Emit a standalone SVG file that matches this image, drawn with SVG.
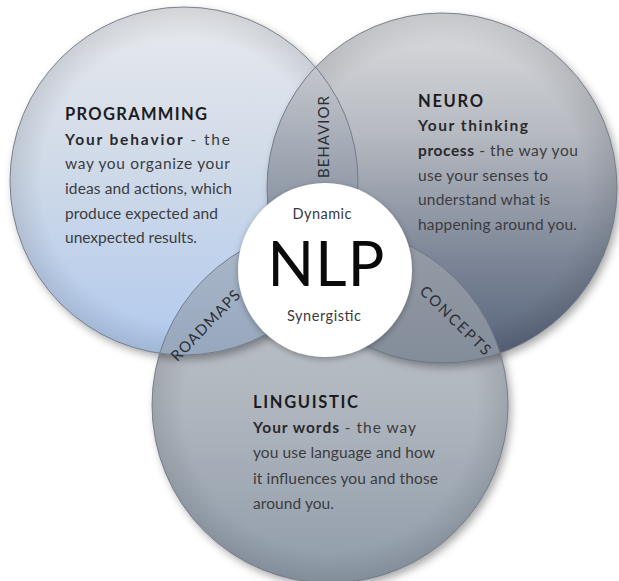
<svg xmlns="http://www.w3.org/2000/svg" width="619" height="581" viewBox="0 0 619 581">
<defs>
<style>
text{font-family:Lato,"Liberation Sans","DejaVu Sans",sans-serif;}
.h{font-weight:bold;font-size:16.5px;fill:#1c1c1e;}
.t{font-size:15.5px;fill:#3c3c40;}
.b{font-weight:bold;fill:#2a2a2e;}
.lab{font-size:15px;fill:#2c2f36;}
.ring{fill:none;stroke:#6e7683;stroke-width:0.9;}
</style>
<linearGradient id="gL" gradientUnits="userSpaceOnUse" x1="0" y1="7" x2="0" y2="355">
<stop offset="0" stop-color="#e8eaee"/>
<stop offset="0.45" stop-color="#d0dae8"/>
<stop offset="1" stop-color="#b1caee"/>
</linearGradient>
<linearGradient id="gR" gradientUnits="userSpaceOnUse" x1="0" y1="13" x2="0" y2="363">
<stop offset="0" stop-color="#dcdde0"/>
<stop offset="0.35" stop-color="#b5b9c0"/>
<stop offset="0.7" stop-color="#7d8697"/>
<stop offset="1" stop-color="#56627a"/>
</linearGradient>
<linearGradient id="gB" gradientUnits="userSpaceOnUse" x1="0" y1="227" x2="0" y2="583">
<stop offset="0" stop-color="#c4c9ce"/>
<stop offset="0.5" stop-color="#afb6be"/>
<stop offset="1" stop-color="#909caa"/>
</linearGradient>
<linearGradient id="gBeh" gradientUnits="userSpaceOnUse" x1="0" y1="68" x2="0" y2="200">
<stop offset="0" stop-color="#c3c6cc"/>
<stop offset="1" stop-color="#8f98a6"/>
</linearGradient>
<linearGradient id="gRoad" gradientUnits="userSpaceOnUse" x1="0" y1="240" x2="0" y2="365">
<stop offset="0" stop-color="#a9b7ca"/>
<stop offset="1" stop-color="#96a6bb"/>
</linearGradient>
<linearGradient id="gCon" gradientUnits="userSpaceOnUse" x1="0" y1="240" x2="0" y2="365">
<stop offset="0" stop-color="#959ca7"/>
<stop offset="1" stop-color="#838c99"/>
</linearGradient>
<radialGradient id="rim">
<stop offset="0.82" stop-color="#000" stop-opacity="0"/>
<stop offset="1" stop-color="#000" stop-opacity="0.1"/>
</radialGradient>
<clipPath id="cL"><circle cx="184" cy="181" r="174"/></clipPath>
<clipPath id="cR"><circle cx="442" cy="188" r="175"/></clipPath>
<clipPath id="cB"><circle cx="330" cy="405" r="178"/></clipPath>
<filter id="sh" x="-20%" y="-20%" width="140%" height="140%">
<feDropShadow dx="3" dy="4" stdDeviation="4" flood-color="#000" flood-opacity="0.35"/>
</filter>
<filter id="shW" x="-20%" y="-20%" width="140%" height="140%">
<feDropShadow dx="0" dy="2" stdDeviation="3" flood-color="#000" flood-opacity="0.3"/>
</filter>
</defs>
<rect width="619" height="581" fill="#ffffff"/>

<g id="node-linguistic">
<circle cx="330" cy="405" r="178" fill="url(#gB)" filter="url(#sh)"/>
<circle cx="330" cy="405" r="178" fill="url(#rim)"/>
</g>
<g id="node-programming">
<circle cx="184" cy="181" r="174" fill="url(#gL)" filter="url(#sh)"/>
<circle cx="184" cy="181" r="174" fill="url(#rim)"/>
</g>
<g id="node-neuro">
<circle cx="442" cy="188" r="175" fill="url(#gR)" filter="url(#sh)"/>
<circle cx="442" cy="188" r="175" fill="url(#rim)"/>
</g>

<g id="overlap-behavior">
<circle cx="442" cy="188" r="175" fill="url(#gBeh)" clip-path="url(#cL)"/>
</g>
<g id="overlap-roadmaps">
<circle cx="330" cy="405" r="178" fill="url(#gRoad)" clip-path="url(#cL)"/>
</g>
<g id="overlap-concepts">
<circle cx="330" cy="405" r="178" fill="url(#gCon)" clip-path="url(#cR)"/>
</g>

<g id="connectors">
<circle class="ring" cx="330" cy="405" r="178"/>
<circle class="ring" cx="184" cy="181" r="174"/>
<circle class="ring" cx="442" cy="188" r="175"/>
</g>

<g id="node-nlp">
<circle cx="325" cy="270" r="87" fill="#ffffff" filter="url(#shW)"/>
<text x="322" y="219" text-anchor="middle" font-size="14.5" fill="#3a3a3e" textLength="59">Dynamic</text>
<text x="326" y="286" text-anchor="middle" font-size="61" fill="#0a0a0a" textLength="117">NLP</text>
<text x="324" y="321" text-anchor="middle" font-size="14.5" fill="#3a3a3e" textLength="74">Synergistic</text>
</g>

<g id="label-behavior">
<text class="lab" transform="translate(329,137) rotate(-90)" text-anchor="middle" textLength="82">BEHAVIOR</text>
</g>
<g id="label-roadmaps">
<text class="lab" transform="translate(205,325) rotate(-46)" text-anchor="middle" dominant-baseline="central" textLength="92">ROADMAPS</text>
</g>
<g id="label-concepts">
<text class="lab" transform="translate(456,320) rotate(44)" text-anchor="middle" dominant-baseline="central" textLength="92">CONCEPTS</text>
</g>

<g id="text-programming">
<text class="h" x="65" y="120" textLength="142">PROGRAMMING</text>
<text class="t" x="65" y="145" textLength="165"><tspan class="b">Your behavior</tspan> -  the</text>
<text class="t" x="65" y="169" textLength="165">way you organize your</text>
<text class="t" x="65" y="194" textLength="167">ideas and actions, which</text>
<text class="t" x="65" y="219" textLength="153">produce expected and</text>
<text class="t" x="65" y="243" textLength="132">unexpected results.</text>
</g>

<g id="text-neuro">
<text class="h" x="418" y="107" textLength="65">NEURO</text>
<text class="t" x="418" y="131" textLength="110"><tspan class="b">Your thinking</tspan></text>
<text class="t" x="418" y="156" textLength="160"><tspan class="b">process</tspan> - the way you</text>
<text class="t" x="418" y="181" textLength="130">use your senses to</text>
<text class="t" x="418" y="205" textLength="132">understand what is</text>
<text class="t" x="418" y="230" textLength="159">happening around you.</text>
</g>

<g id="text-linguistic">
<text class="h" x="253" y="408" textLength="105">LINGUISTIC</text>
<text class="t" x="253" y="433" textLength="163"><tspan class="b">Your words</tspan> - the way</text>
<text class="t" x="253" y="458" textLength="182">you use language and how</text>
<text class="t" x="253" y="484" textLength="185">it influences you and those</text>
<text class="t" x="253" y="509" textLength="81">around you.</text>
</g>
</svg>
